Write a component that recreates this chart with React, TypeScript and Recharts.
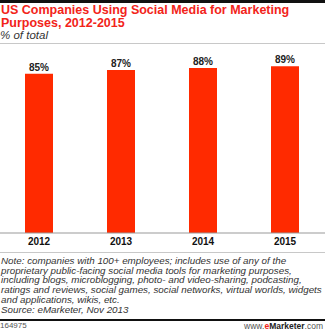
import { BarChart, Bar, XAxis, YAxis, LabelList } from 'recharts'

const years = ['2012', '2013', '2014', '2015']
const shares = [85, 87, 88, 89]

const noteLines = [
  'Note: companies with 100+ employees; includes use of any of the',
  'proprietary public-facing social media tools for marketing purposes,',
  'including blogs, microblogging, photo- and video-sharing, podcasting,',
  'ratings and reviews, social games, social networks, virtual worlds, widgets',
  'and applications, wikis, etc.',
  'Source: eMarketer, Nov 2013',
]

const data = years.map((year, i) => ({ year, share: shares[i] }))

const font = '"Liberation Sans", Arial, sans-serif'

export default function App() {
  return (
    <div
      style={{
        position: 'absolute',
        left: 0,
        top: 0,
        width: 325,
        height: 330,
        overflow: 'hidden',
        background: '#fff',
        fontFamily: font,
      }}
    >
      <div style={{ position: 'absolute', left: 0, top: 0, width: 325, height: 2.5, background: '#111' }} />
      <div
        style={{
          position: 'absolute',
          left: 1,
          top: 4,
          fontSize: 12.5,
          lineHeight: '12.5px',
          fontWeight: 'bold',
          color: '#f2231a',
          whiteSpace: 'nowrap',
        }}
      >
        <div>US Companies Using Social Media for Marketing</div>
        <div>Purposes, 2012-2015</div>
      </div>
      <div
        style={{
          position: 'absolute',
          left: 0,
          top: 28.5,
          fontSize: 11.5,
          lineHeight: '12px',
          fontStyle: 'italic',
          color: '#333',
        }}
      >
        % of total
      </div>
      <div style={{ position: 'absolute', left: 0, top: 43, width: 325, height: 1, background: '#c8c8c8' }} />

      <div style={{ position: 'absolute', left: -2, top: 0 }}>
        <BarChart
          width={328}
          height={252}
          data={data}
          margin={{ top: 45.5, right: 0, bottom: 0, left: 0 }}
        >
          <YAxis hide domain={[0, 100]} />
          <XAxis
            dataKey="year"
            height={19}
            tickLine={false}
            tickSize={0}
            tickMargin={5}
            axisLine={{ stroke: '#999', strokeWidth: 1 }}
            tick={{ fill: '#111', fontSize: 10, fontWeight: 'bold', fontFamily: font }}
          />
          <Bar dataKey="share" fill="#ff2a00" barSize={28} isAnimationActive={false}>
            <LabelList
              dataKey="share"
              position="top"
              offset={3}
              formatter={(v: number) => `${v}%`}
              style={{ fill: '#222', fontSize: 10, fontWeight: 'bold', fontFamily: font }}
            />
          </Bar>
        </BarChart>
      </div>

      <div style={{ position: 'absolute', left: 0, top: 252, width: 325, height: 1, background: '#c8c8c8' }} />
      <div
        style={{
          position: 'absolute',
          left: 1,
          top: 256,
          fontSize: 9.8,
          lineHeight: '9.7px',
          fontStyle: 'italic',
          color: '#333',
          whiteSpace: 'nowrap',
        }}
      >
        {noteLines.map((line, i) => (
          <div key={i}>{line}</div>
        ))}
      </div>
      <div style={{ position: 'absolute', left: 0, top: 319, width: 325, height: 2, background: '#111' }} />
      <div style={{ position: 'absolute', left: 0, top: 322, fontSize: 8, lineHeight: '8px', color: '#555' }}>
        164975
      </div>
      <div
        style={{
          position: 'absolute',
          right: 2,
          top: 322,
          fontSize: 8.5,
          lineHeight: '8px',
          color: '#555',
        }}
      >
        www.<span style={{ color: '#f2231a', fontWeight: 'bold' }}>e</span>
        <span style={{ color: '#222', fontWeight: 'bold' }}>Marketer</span>.com
      </div>
    </div>
  )
}
